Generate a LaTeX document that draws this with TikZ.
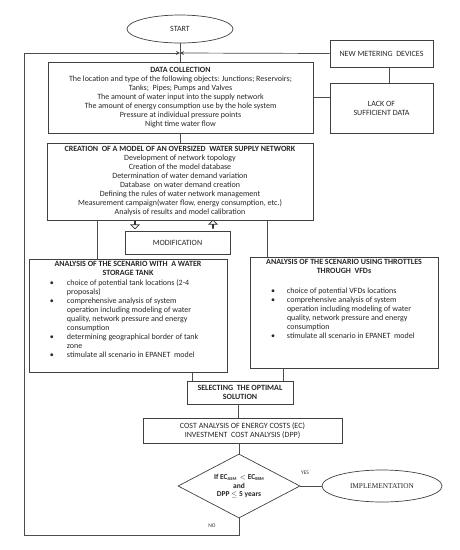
\documentclass[tikz,border=0pt]{standalone}
\usepackage{fontspec}
\setmainfont{Carlito}
\newfontfamily\implfont{Liberation Serif}
\usetikzlibrary{shapes.geometric, shapes.arrows, positioning, arrows.meta, calc}
\tikzset{
  box/.style={rectangle, draw=black!75, line width=0.7pt, text=black!85, font=\fontsize{8}{9}\selectfont, align=center, inner sep=0pt},
  oval/.style={ellipse, draw=black!75, line width=0.7pt, text=black!85, font=\fontsize{8}{9}\selectfont, inner sep=0pt},
  decision/.style={diamond, draw=black!75, line width=0.7pt, text=black!85, font=\fontsize{7.5}{8}\selectfont\bfseries, align=center, inner sep=0pt, aspect=1.9},
  line/.style={draw=black!70, line width=0.7pt},
  arrow/.style={line, -{Stealth[length=4pt,width=4pt]}},
  hollow/.style={single arrow, draw=black!80, line width=0.7pt, fill=white, minimum width=8pt, minimum height=8pt, single arrow head extend=2pt, inner sep=0pt},
  tag/.style={font=\fontsize{5.5}{6}\selectfont, text=black!80, inner sep=0pt}
}
\newcommand{\blt}{\textbullet}
\newcommand{\sub}[1]{\raisebox{-1pt}{\fontsize{4.5}{5}\selectfont #1}}

\begin{document}
\begin{tikzpicture}[x=1pt, y=-1pt]
        \useasboundingbox (0,0) rectangle (460,550);

        % 1. Inicio y recogida de datos
        \node[oval, minimum width=106pt, minimum height=28pt] (start) at (180, 29) {START};
        \node[box, minimum width=265pt, minimum height=71pt] (data) at (180.5, 97.5)
            {\textbf{DATA COLLECTION}\\
             The location and type of the following objects: Junctions; Reservoirs;\\
             Tanks;\ \ Pipes; Pumps and Valves\\
             The amount of water input into the supply network\\
             The amount of energy consumption use by the hole system\\
             Pressure at individual pressure points\\
             Night time water flow};
        \node[box, minimum width=103pt, minimum height=27pt] (meter) at (381.5, 53.5) {NEW METERING\ \ DEVICES};
        \node[box, minimum width=103pt, minimum height=50pt] (lack) at (381.5, 108) {LACK OF\\SUFFICIENT DATA};

        % 2. Modelo de la red
        \node[box, minimum width=266pt, minimum height=77pt] (model) at (180, 181.5)
            {\textbf{CREATION\ \ OF A MODEL OF AN OVERSIZED\ \ WATER SUPPLY NETWORK}\\
             Development of network topology\\
             Creation of the model database\\
             Determination of water demand variation\\
             Database\ \ on water demand creation\\
             Defining the rules of water network management\\
             Measurement campaign(water flow, energy consumption, etc.)\\
             Analysis of results and model calibration};
        \node[box, minimum width=105pt, minimum height=23pt] (modif) at (177.5, 242.5) {MODIFICATION};
        \node[hollow, rotate=-90] (moddown) at (135, 224.5) {};
        \node[hollow, rotate=90] (modup) at (213, 224.5) {};

        % 3. Escenarios
        \node[box, minimum width=198pt, minimum height=113pt] (tank) at (128, 315.5)
            {\parbox[c][109pt][t]{190pt}{\centering
             \textbf{ANALYSIS OF THE SCENARIO WITH\ \ A WATER}\\
             \textbf{STORAGE TANK}\par\vspace{1pt}
             \raggedright\noindent\hspace*{17pt}\begin{tabular}[t]{@{}p{17pt}@{}l@{}}
             \blt & choice of potential tank locations (2-4\\
                  & proposals)\\
             \blt & comprehensive analysis of system\\
                  & operation including modeling of water\\
                  & quality, network pressure and energy\\
                  & consumption\\
             \blt & determining geographical border of tank\\
                  & zone\\
             \blt & stimulate all scenario in EPANET\ \ model
             \end{tabular}}};
        \node[box, minimum width=188pt, minimum height=111pt] (vfd) at (344, 312.5)
            {\parbox[c][107pt][t]{180pt}{\centering
             \textbf{ANALYSIS OF THE SCENARIO USING THROTTLES}\\
             \textbf{THROUGH\ \ VFDs}\par\vspace{11pt}
             \raggedright\noindent\hspace*{17pt}\begin{tabular}[t]{@{}p{16pt}@{}l@{}}
             \blt & choice of potential VFDs locations\\
             \blt & comprehensive analysis of system\\
                  & operation including modeling of water\\
                  & quality, network pressure and energy\\
                  & consumption\\
             \blt & stimulate all scenario in EPANET\ \ model
             \end{tabular}}};

        % 4. Seleccion y costes
        \node[box, minimum width=106pt, minimum height=23pt] (select) at (240, 392.5)
            {\textbf{SELECTING\ \ THE OPTIMAL}\\\textbf{SOLUTION}};
        \node[box, minimum width=199pt, minimum height=25pt] (cost) at (242.5, 430.5)
            {COST ANALYSIS OF ENERGY COSTS (EC)\\INVESTMENT\ \ COST ANALYSIS (DPP)};
        \node[decision, minimum width=122pt, minimum height=64pt] (check) at (239, 486)
            {If EC\sub{ASM}\ \ $<$ EC\sub{BSM}\\[0.5pt]and\\DPP $\leq$ 5 years};
        \node[oval, minimum width=120pt, minimum height=32pt, font=\implfont\fontsize{7.3}{9}\selectfont] (impl) at (382, 486) {IMPLEMENTATION};
        \node[tag] (yes) at (305, 473) {YES};
        \node[tag] (no) at (212, 526) {NO};

        % 5. Conexiones
        \coordinate (merge) at (180, 53);
        \coordinate (loopcorner) at (24, 535);
        \draw[line] (start.south) -- (start.south |- data.north);
        \draw[arrow] (meter.west) -- (merge);
        \draw[arrow] (check.south) |- (loopcorner) |- (merge);
        \draw[line] (meter.south -| 389,0) -- (lack.north -| 389,0);
        \draw[line] (data.east) -- (data.east -| lack.west);
        \draw[line] (data.south -| 180,0) -- (model.north -| 180,0);
        \draw[line] (model.south -| 97,0) -- (tank.north -| 97,0);
        \draw[line] (model.south -| 267,0) -- (vfd.north -| 267,0);
        \draw[line] (tank.south -| 192,0) -- (select.north -| 192,0);
        \draw[line] (vfd.south -| 283,0) -- (select.north -| 283,0);
        \draw[line] (select.south -| 238,0) -- (cost.north -| 238,0);
        \draw[line] (check.north |- cost.south) -- (check.north);
        \draw[line] (check.east) -- (impl.west);

    \end{tikzpicture}
\end{document}
